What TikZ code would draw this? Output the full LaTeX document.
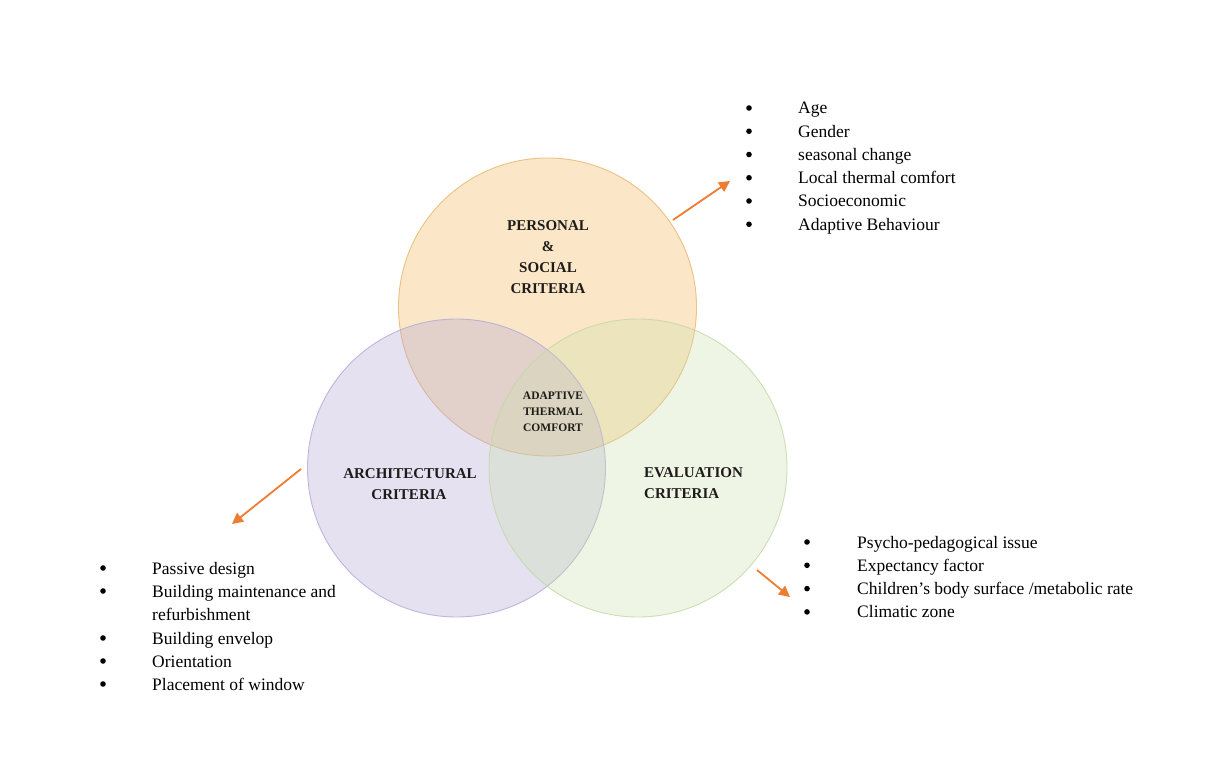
\documentclass[tikz,border=0pt]{standalone}
\usepackage{fontspec}
\setmainfont{Liberation Serif}
\usetikzlibrary{arrows.meta}
\definecolor{orfill}{RGB}{247,203,132}
\definecolor{ordraw}{RGB}{232,182,108}
\definecolor{pufill}{RGB}{178,165,214}
\definecolor{pudraw}{RGB}{180,168,214}
\definecolor{grfill}{RGB}{200,222,168}
\definecolor{grdraw}{RGB}{196,216,164}
\definecolor{arr}{RGB}{237,125,49}
\definecolor{lab}{RGB}{30,28,26}
\begin{document}
\begin{tikzpicture}[x=1pt,y=-1pt,
  venn/.style={circle,minimum size=298pt,inner sep=0pt,line width=0.9pt},
  biglab/.style={anchor=base,inner sep=0pt,text=lab,font=\fontsize{15}{18}\selectfont\bfseries},
  smalllab/.style={anchor=base,inner sep=0pt,text=lab,font=\fontsize{11.5}{14}\selectfont\bfseries},
  item/.style={anchor=base west,inner sep=0pt,font=\fontsize{17.5}{21}\selectfont},
  bul/.style={circle,fill=black,inner sep=0pt,minimum size=5.6pt},
  callout/.style={draw=arr,line width=1.8pt,-{Triangle[length=11pt,width=11pt]}}]
\useasboundingbox (0,0) rectangle (1209,775);
\fill[white] (0,0) rectangle (1209,775);
% circles
\node[venn,fill=orfill,fill opacity=0.45,draw=ordraw,draw opacity=0.8] (top) at (547.5,307) {};
\node[venn,fill=pufill,fill opacity=0.33,draw=pudraw,draw opacity=0.8] (left) at (456.5,468) {};
\node[venn,fill=grfill,fill opacity=0.30,draw=grdraw,draw opacity=0.8] (right) at (638,468) {};
% circle labels
\node[biglab] (t1) at (548,230.5) {PERSONAL};
\node[biglab] (t2) at (548,251.5) {\&};
\node[biglab] (t3) at (548,272.5) {SOCIAL};
\node[biglab] (t4) at (548,293.5) {CRITERIA};
\node[smalllab] (c1) at (553,399) {ADAPTIVE};
\node[smalllab] (c2) at (553,415) {THERMAL};
\node[smalllab] (c3) at (553,431) {COMFORT};
\node[biglab] (l1) at (410,478) {ARCHITECTURAL};
\node[biglab] (l2) at (409,499) {CRITERIA};
\node[biglab,anchor=base west] (r1) at (644,477.5) {EVALUATION};
\node[biglab,anchor=base west] (r2) at (644,498.5) {CRITERIA};
% arrows
\coordinate (a1s) at (673,220);
\coordinate (a1e) at (730,181);
\coordinate (a2s) at (301,469);
\coordinate (a2e) at (232,524);
\coordinate (a3s) at (757,570);
\coordinate (a3e) at (790,597);
\draw[callout] (a1s) -- (a1e);
\draw[callout] (a2s) -- (a2e);
\draw[callout] (a3s) -- (a3e);
% top list
\foreach \t [count=\i] in {Age,Gender,seasonal change,Local thermal comfort,Socioeconomic,Adaptive Behaviour}{
  \node[bul] (pb\i) at (749,{108+23.25*(\i-1)}) {};
  \node[item] (pi\i) at (798,{114+23.25*(\i-1)}) {\t};
}
% left list
\node[bul] (ab1) at (103,568) {};
\node[item] (ai1) at (152,574) {Passive design};
\node[bul] (ab2) at (103,591) {};
\node[item] (ai2) at (152,597) {Building maintenance and};
\node[item] (ai2b) at (152,620.5) {refurbishment};
\node[bul] (ab3) at (103,638) {};
\node[item] (ai3) at (152,644) {Building envelop};
\node[bul] (ab4) at (103,661) {};
\node[item] (ai4) at (152,667) {Orientation};
\node[bul] (ab5) at (103,684) {};
\node[item] (ai5) at (152,690) {Placement of window};
% right list
\foreach \t [count=\i] in {Psycho-pedagogical issue,Expectancy factor,Children’s body surface /metabolic rate,Climatic zone}{
  \node[bul] (eb\i) at (807,{542+23.3*(\i-1)}) {};
  \node[item] (ei\i) at (857,{548+23.3*(\i-1)}) {\t};
}
\end{tikzpicture}
\end{document}
